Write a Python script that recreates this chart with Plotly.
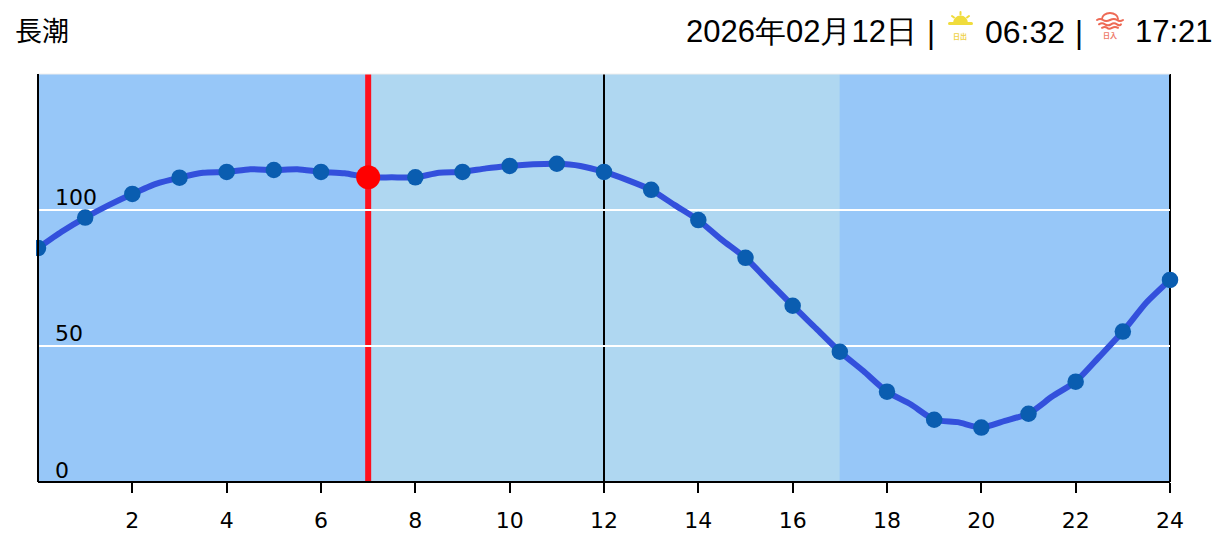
import base64
import plotly.graph_objects as go

# Tide height at each hour mark
hours = list(range(25))
tide = [86, 97.2, 105.9, 111.9, 114, 114.7, 114, 112, 112, 114, 116.2, 117, 114,
        107.4, 96.3, 82.4, 64.8, 47.9, 33.2, 22.9, 20, 25.1, 36.9, 55.3, 74.3]
# Heights halfway between the hour marks, the curve is denser than the dots
half_hours = [h + 0.5 for h in range(24)]
half_tide = [92, 101.8, 109.6, 113.7, 115, 115, 113.5, 112, 113.7, 115.3, 116.8, 116.2,
             111, 101.8, 89, 73.6, 56.4, 40.8, 28.6, 22, 22.5, 31.4, 46, 66]
now_hour = 7
now_tide = 112
noon_hour = 12
light_start = 7
light_end = 17
x_ticks = list(range(2, 25, 2))
y_ticks = [0, 50, 100]

title_text = "長潮"
date_text = "2026年02月12日"
sunrise_text = "06:32"
sunset_text = "17:21"

W, H = 1221, 558
L, R, T, B = 38, 1170, 74, 482


# pixel position in the page -> paper coordinates, only for header items
def px(x):
    return (x - L) / (R - L)


def py(y):
    return (B - y) / (B - T)


def svg_uri(svg):
    return "data:image/svg+xml;base64," + base64.b64encode(svg.encode()).decode()


sun_svg = """<svg xmlns="http://www.w3.org/2000/svg" width="30" height="20" viewBox="0 0 30 20">
<path d="M7 13 A7.5 7.5 0 0 1 22 13 Z" fill="#F0DC3C"/>
<rect x="2" y="12" width="25" height="3" rx="1.5" fill="#F0DC3C"/>
<g stroke="#F0DC3C" stroke-width="2" stroke-linecap="round">
<line x1="14.5" y1="2" x2="14.5" y2="4.5"/>
<line x1="6" y1="6" x2="8" y2="7.5"/>
<line x1="23" y1="6" x2="21" y2="7.5"/>
</g></svg>"""

set_svg = """<svg xmlns="http://www.w3.org/2000/svg" width="30" height="20" viewBox="0 0 30 20">
<g fill="none" stroke="#EE6A55" stroke-width="2" stroke-linecap="round">
<path d="M8 8 A8 6 0 0 1 24 8"/>
<path d="M3 9 Q6 7 9 9 T16 9 T23 9 T29 9"/>
<path d="M5 13.3 Q8 11.3 11 13.3 T17 13.3 T23 13.3 T27 13.3"/>
<path d="M8 16.8 Q11 15 13 16.8 T18 16.8 T24 16.8"/>
</g></svg>"""

# line goes through the hourly and the halfway heights
line_points = sorted(zip(hours + half_hours, tide + half_tide))

fig = go.Figure()

fig.add_trace(go.Scatter(
    x=[p[0] for p in line_points], y=[p[1] for p in line_points],
    mode="lines",
    line=dict(color="#3350DC", width=6, shape="spline", smoothing=0.6),
    cliponaxis=False,
    showlegend=False,
))
fig.add_trace(go.Scatter(
    x=hours, y=tide,
    mode="markers",
    marker=dict(color="#0A5DB0", size=16.5),
    cliponaxis=False,
    showlegend=False,
))
fig.add_trace(go.Scatter(
    x=[now_hour], y=[now_tide],
    mode="markers",
    marker=dict(color="#FF0000", size=24),
    cliponaxis=False,
    showlegend=False,
))

shapes = [
    dict(type="rect", xref="x", yref="paper", x0=0, x1=light_start, y0=0, y1=1,
         fillcolor="#97C7F8", line_width=0, layer="below"),
    dict(type="rect", xref="x", yref="paper", x0=light_start, x1=light_end, y0=0, y1=1,
         fillcolor="#AFD7F1", line_width=0, layer="below"),
    dict(type="rect", xref="x", yref="paper", x0=light_end, x1=24, y0=0, y1=1,
         fillcolor="#97C7F8", line_width=0, layer="below"),
    dict(type="line", xref="x", yref="paper", x0=now_hour, x1=now_hour, y0=0, y1=1,
         line=dict(color="#FF0F1E", width=6), layer="below"),
    dict(type="line", xref="x", yref="paper", x0=noon_hour, x1=noon_hour, y0=0, y1=1,
         line=dict(color="black", width=2), layer="between"),
    # black frame: paper refs so it is not clipped at the plot edge
    dict(type="line", xref="paper", yref="paper", x0=0, x1=0, y0=0, y1=1,
         line=dict(color="black", width=2), layer="above"),
    dict(type="line", xref="paper", yref="paper", x0=1, x1=1, y0=0, y1=1,
         line=dict(color="black", width=2), layer="between"),
    dict(type="line", xref="paper", yref="paper", x0=0, x1=1, y0=0, y1=0,
         line=dict(color="black", width=2), layer="between"),
    # thin pale edge along the top of the plot
    dict(type="line", xref="paper", yref="paper", x0=0, x1=1, y0=1, y1=1,
         line=dict(color="#EEEEEE", width=1), layer="between"),
    # first dot is cut off just left of the axis
    dict(type="rect", xref="paper", yref="paper", x0=px(26), x1=px(36), y0=py(262), y1=py(234),
         fillcolor="white", line_width=0, layer="above"),
]

annotations = []
for v in y_ticks:
    annotations.append(dict(
        x=0, y=v, xref="x", yref="y", text=str(v), showarrow=False,
        xanchor="left", yanchor="bottom", xshift=15, yshift=-2 if v else -3,
        font=dict(family="DejaVu Sans", size=22, color="black"),
    ))

header = [
    (13, 30, title_text, "Noto Sans CJK JP", 27, "black", "left"),
    (684, 32, date_text, "Liberation Sans", 31, "black", "left"),
    (931, 33, "|", "Liberation Sans", 31, "black", "center"),
    (983, 32, sunrise_text, "Liberation Sans", 32, "black", "left"),
    (1079, 33, "|", "Liberation Sans", 31, "black", "center"),
    (1133, 32, sunset_text, "Liberation Sans", 31, "black", "left"),
    (960, 36, "<b>日出</b>", "Noto Sans CJK JP", 7, "#EFD24A", "center"),
    (1110, 35, "<b>日入</b>", "Noto Sans CJK JP", 7, "#EE7B6A", "center"),
]
for x, y, text, family, size, color, anchor in header:
    annotations.append(dict(
        x=px(x), y=py(y), xref="paper", yref="paper", text=text, showarrow=False,
        xanchor=anchor, yanchor="middle",
        font=dict(family=family, size=size, color=color),
    ))

images = [
    dict(source=svg_uri(sun_svg), xref="paper", yref="paper", x=px(946), y=py(10),
         sizex=30 / (R - L), sizey=20 / (B - T), xanchor="left", yanchor="top",
         sizing="stretch", layer="above"),
    dict(source=svg_uri(set_svg), xref="paper", yref="paper", x=px(1094), y=py(11),
         sizex=30 / (R - L), sizey=20 / (B - T), xanchor="left", yanchor="top",
         sizing="stretch", layer="above"),
]

fig.update_layout(
    width=W, height=H,
    margin=dict(l=L, r=W - R, t=T, b=H - B, pad=0),
    paper_bgcolor="white",
    plot_bgcolor="#97C7F8",
    showlegend=False,
    shapes=shapes,
    annotations=annotations,
    images=images,
    xaxis=dict(
        range=[0, 24], tickmode="array", tickvals=x_ticks, ticktext=[str(t) for t in x_ticks],
        ticks="outside", ticklen=10, tickwidth=2, tickcolor="black",
        showline=False, showgrid=False, zeroline=False,
        tickfont=dict(family="DejaVu Sans", size=22, color="black"),
        ticklabelstandoff=9,
    ),
    yaxis=dict(
        range=[0, 150], tickmode="array", tickvals=[50, 100], showticklabels=False,
        ticks="", showline=False,
        showgrid=True, gridcolor="white", gridwidth=2, zeroline=False,
    ),
)

fig.write_html("out.html", config=dict(displayModeBar=False),
               post_script="document.body.style.margin='0';")
